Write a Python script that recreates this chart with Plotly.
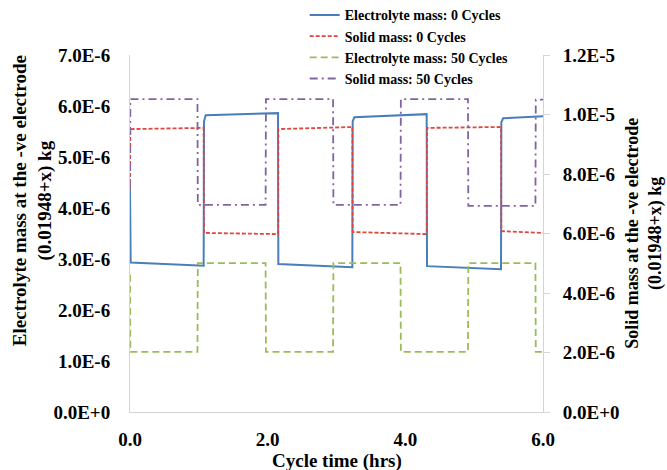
import plotly.graph_objects as go

# ---------------- data ----------------
# Electrolyte mass: 0 Cycles (left axis, kg)
t_e0 = [0.0, 0.01, 1.07, 1.075, 1.10, 2.15, 2.155, 3.23, 3.235, 3.26, 4.31, 4.315, 5.39, 5.395, 5.42, 6.0]
v_e0 = [4.40e-6, 2.93e-6, 2.87e-6, 5.70e-6, 5.82e-6, 5.86e-6, 2.90e-6, 2.84e-6, 5.70e-6, 5.78e-6,
        5.84e-6, 2.86e-6, 2.80e-6, 5.68e-6, 5.76e-6, 5.80e-6]

# Solid mass: 0 Cycles (right axis, kg)
t_s0 = [0.0, 0.005, 1.07, 1.075, 2.15, 2.155, 3.23, 3.235, 4.31, 4.315, 5.39, 5.395, 6.0]
v_s0 = [7.5e-6, 9.51e-6, 9.55e-6, 6.02e-6, 5.98e-6, 9.51e-6, 9.58e-6, 6.05e-6, 5.98e-6, 9.55e-6,
        9.58e-6, 6.08e-6, 6.02e-6]

# Electrolyte mass: 50 Cycles (left axis, kg)
t_e50 = [0.0, 0.005, 0.98, 0.985, 1.97, 1.975, 2.95, 2.955, 3.93, 3.935, 4.91, 4.915, 5.89, 5.895, 6.0]
v_e50 = [2.69e-6, 1.18e-6, 1.18e-6, 2.92e-6, 2.92e-6, 1.18e-6, 1.18e-6, 2.92e-6, 2.92e-6, 1.18e-6,
         1.18e-6, 2.92e-6, 2.92e-6, 1.18e-6, 1.18e-6]

# Solid mass: 50 Cycles (right axis, kg)
t_s50 = [0.0, 0.005, 0.98, 0.985, 1.97, 1.975, 2.95, 2.955, 3.93, 3.935, 4.91, 4.915, 5.89, 5.895, 6.0]
v_s50 = [7.5e-6, 10.52e-6, 10.52e-6, 6.96e-6, 6.96e-6, 10.52e-6, 10.52e-6, 6.96e-6, 6.96e-6, 10.52e-6,
         10.52e-6, 6.93e-6, 6.93e-6, 10.50e-6, 10.50e-6]

series_names = ["Electrolyte mass: 0 Cycles", "Solid mass: 0 Cycles",
                "Electrolyte mass: 50 Cycles", "Solid mass: 50 Cycles"]

x_ticks = [0, 2, 4, 6]
x_tick_labels = ["0.0", "2.0", "4.0", "6.0"]
left_ticks = [0, 1e-6, 2e-6, 3e-6, 4e-6, 5e-6, 6e-6, 7e-6]
left_tick_labels = ["0.0E+0", "1.0E-6", "2.0E-6", "3.0E-6", "4.0E-6", "5.0E-6", "6.0E-6", "7.0E-6"]
right_ticks = [0, 2e-6, 4e-6, 6e-6, 8e-6, 10e-6, 12e-6]
right_tick_labels = ["0.0E+0", "2.0E-6", "4.0E-6", "6.0E-6", "8.0E-6", "1.0E-5", "1.2E-5"]

left_title = "Electrolyte mass at the -ve electrode<br>(0.01948+x) kg"
right_title = "Solid mass at the -ve electrode<br>(0.01948+x) kg"
x_title = "Cycle time (hrs)"

# ---------------- figure ----------------
FONT = "Liberation Serif, Times New Roman, serif"
AXIS_GRAY = "#d4d4d4"

fig = go.Figure()
fig.add_trace(go.Scatter(x=t_e0, y=v_e0, name=series_names[0], mode="lines",
                         line=dict(color="#4A7EBB", width=2), yaxis="y"))
fig.add_trace(go.Scatter(x=t_s0, y=v_s0, name=series_names[1], mode="lines",
                         line=dict(color="#E0453F", width=1.8, dash="4px,2px"), yaxis="y2"))
fig.add_trace(go.Scatter(x=t_e50, y=v_e50, name=series_names[2], mode="lines",
                         line=dict(color="#9BBB59", width=1.8, dash="7px,4px"), yaxis="y"))
fig.add_trace(go.Scatter(x=t_s50, y=v_s50, name=series_names[3], mode="lines",
                         line=dict(color="#8064A2", width=1.8, dash="8px,4px,2px,4px"), yaxis="y2"))

tickfont = dict(family=FONT, size=19, color="black", weight="bold")

fig.update_layout(
    width=667, height=470,
    margin=dict(l=130, r=124, t=55, b=58, autoexpand=False),
    paper_bgcolor="white", plot_bgcolor="white",
    font=dict(family=FONT, color="black"),
    showlegend=True,
    legend=dict(x=0.423, y=1.156, xanchor="left", yanchor="top",
                font=dict(family=FONT, size=14, color="black", weight="bold"),
                bgcolor="rgba(255,255,255,0)", itemwidth=30, tracegroupgap=0),
    xaxis=dict(range=[0, 6], tickvals=x_ticks, ticktext=x_tick_labels, tickfont=tickfont,
               showgrid=False, zeroline=False, showline=True, linecolor=AXIS_GRAY, linewidth=1,
               ticks="", ticklabelstandoff=10),
    yaxis=dict(range=[0, 7e-6], tickvals=left_ticks, ticktext=left_tick_labels, tickfont=tickfont,
               showgrid=False, zeroline=False, showline=True, linecolor=AXIS_GRAY, linewidth=1,
               ticks="", ticklabelstandoff=15),
    yaxis2=dict(range=[0, 12e-6], tickvals=right_ticks, ticktext=right_tick_labels, tickfont=tickfont,
                overlaying="y", side="right", anchor="x",
                showgrid=False, zeroline=False, showline=True, linecolor=AXIS_GRAY, linewidth=1,
                ticks="outside", ticklen=6, tickcolor=AXIS_GRAY, ticklabelstandoff=9),
)

title_font = dict(family=FONT, size=19, color="black", weight="bold")
fig.add_annotation(text=left_title, xref="paper", yref="paper", x=-0.237, y=0.591,
                   xanchor="center", yanchor="middle", textangle=-90, showarrow=False,
                   font=title_font)
fig.add_annotation(text=right_title, xref="paper", yref="paper", x=1.243, y=0.50,
                   xanchor="center", yanchor="middle", textangle=-90, showarrow=False,
                   font=dict(family=FONT, size=18, color="black", weight="bold"))
fig.add_annotation(text=x_title, xref="paper", yref="paper", x=0.5, y=-0.137,
                   xanchor="center", yanchor="middle", showarrow=False, font=title_font)

# remove the default page margin so the 667x470 figure fills the window exactly
fig.write_html("out.html", config={"displayModeBar": False},
               post_script="document.body.style.margin='0px';")
